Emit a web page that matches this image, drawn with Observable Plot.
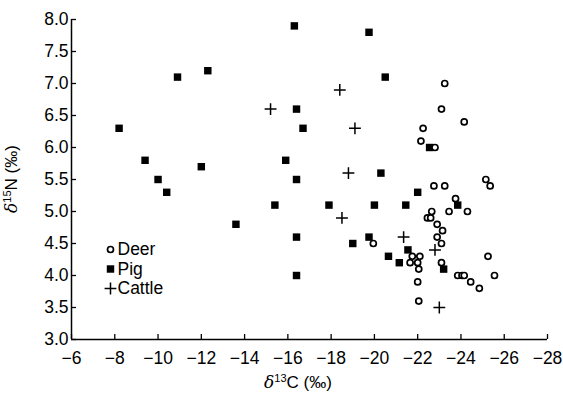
<!DOCTYPE html>
<html>
<head>
<meta charset="utf-8">
<script src="https://cdn.jsdelivr.net/npm/d3@7"></script>
<script src="https://cdn.jsdelivr.net/npm/@observablehq/plot@0.6"></script>
<style>
  html, body { margin: 0; padding: 0; background: #fff; }
  #chart svg { display: block; }
</style>
</head>
<body>
<div id="chart"></div>
<script>
// δ13C (x) and δ15N (y) values
const deerC = [-19.95, -23.25, -23.1, -24.15, -22.25, -22.15, -22.8, -22.75, -23.25, -25.15, -25.35, -23.75, -23.45, -24.3, -22.65, -22.45, -22.6, -22.9, -23.15, -22.9, -23.1, -21.75, -22.1, -21.65, -22.0, -22.05, -23.1, -25.25, -23.85, -24.05, -24.15, -24.45, -24.85, -25.55, -22.0, -22.05];
const deerN = [4.5, 7.0, 6.6, 6.4, 6.3, 6.1, 6.0, 5.4, 5.4, 5.5, 5.4, 5.2, 5.0, 5.0, 5.0, 4.9, 4.9, 4.8, 4.7, 4.6, 4.5, 4.3, 4.3, 4.2, 4.2, 4.1, 4.2, 4.3, 4.0, 4.0, 4.0, 3.9, 3.8, 4.0, 3.9, 3.6];

const pigC = [-8.2, -9.4, -10.0, -10.4, -10.9, -12.0, -12.3, -13.6, -16.3, -19.75, -20.5, -16.4, -16.7, -15.9, -20.3, -16.4, -15.4, -17.9, -20.0, -16.4, -19.75, -19.0, -20.65, -21.15, -16.4, -22.55, -22.0, -21.45, -23.85, -21.55, -23.2];
const pigN = [6.3, 5.8, 5.5, 5.3, 7.1, 5.7, 7.2, 4.8, 7.9, 7.8, 7.1, 6.6, 6.3, 5.8, 5.6, 5.5, 5.1, 5.1, 5.1, 4.6, 4.6, 4.5, 4.3, 4.2, 4.0, 6.0, 5.3, 5.1, 5.1, 4.4, 4.1];

const cattleC = [-15.2, -18.4, -19.1, -18.8, -18.5, -21.35, -22.8, -23.0];
const cattleN = [6.6, 6.9, 6.3, 5.6, 4.9, 4.6, 4.4, 3.5];

const xTicks = [-6, -8, -10, -12, -14, -16, -18, -20, -22, -24, -26, -28];
const yTicks = [3.0, 3.5, 4.0, 4.5, 5.0, 5.5, 6.0, 6.5, 7.0, 7.5, 8.0];
const legendLabels = ["Deer", "Pig", "Cattle"];

const zip = (xs, ys) => xs.map((x, i) => ({x, y: ys[i]}));
const deer = zip(deerC, deerN);
const pig = zip(pigC, pigN);
const cattle = zip(cattleC, cattleN);

const W = 563, H = 394;
const mL = 71, mR = 16, mT = 19, mB = 55;
const font = "'Liberation Sans', Arial, Helvetica, sans-serif";
const fs = 17.5;

// legend anchor positions (computed in data space from pixel layout)
const xs = d3.scaleLinear().domain([-6, -28]).range([mL, W - mR]);
const ys = d3.scaleLinear().domain([3, 8]).range([H - mB, mT]);
const legendRows = legendLabels.map((label, i) => ({
  label,
  x: xs.invert(110),
  xt: xs.invert(117),
  y: ys.invert(249 + i * 19.5)
}));

const plot = Plot.plot({
  width: W,
  height: H,
  marginLeft: mL,
  marginRight: mR,
  marginTop: mT,
  marginBottom: mB,
  style: {fontFamily: font, fontSize: fs + "px", color: "#000", background: "#fff"},
  x: {domain: [-6, -28], label: null},
  y: {domain: [3, 8], label: null},
  marks: [
    Plot.axisX(xTicks, {tickSize: -5, tickPadding: 17, fontSize: fs, label: null, stroke: "#000", strokeWidth: 1.3}),
    Plot.axisY(yTicks, {tickSize: -5, tickPadding: 8, fontSize: fs, label: null, tickFormat: d3.format(".1f"), stroke: "#000", strokeWidth: 1.3}),
    Plot.ruleY([3], {stroke: "#000", strokeWidth: 1.5}),
    Plot.ruleX([-6], {stroke: "#000", strokeWidth: 1.5}),
    Plot.dot(pig, {x: "x", y: "y", symbol: "square", r: 4.2, fill: "#000", stroke: "none"}),
    Plot.dot(cattle, {x: "x", y: "y", symbol: "plus", r: 3.9, stroke: "#000", strokeWidth: 1.5}),
    Plot.dot(deer, {x: "x", y: "y", symbol: "circle", r: 3, fill: "#fff", stroke: "#000", strokeWidth: 1.7}),
    // legend
    Plot.dot(legendRows.slice(0, 1), {x: "x", y: "y", symbol: "circle", r: 3, fill: "#fff", stroke: "#000", strokeWidth: 1.7}),
    Plot.dot(legendRows.slice(1, 2), {x: "x", y: "y", symbol: "square", r: 4.2, fill: "#000"}),
    Plot.dot(legendRows.slice(2, 3), {x: "x", y: "y", symbol: "plus", r: 3.9, stroke: "#000", strokeWidth: 1.5}),
    Plot.text(legendRows, {x: "xt", y: "y", text: "label", textAnchor: "start", fontSize: fs, fill: "#000"})
  ]
});

const svg = d3.select(plot);
// x-axis title
const xt = svg.append("text")
  .attr("x", 298)
  .attr("y", H - 6)
  .attr("text-anchor", "middle")
  .attr("font-family", font)
  .attr("font-size", 17)
  .attr("fill", "#000");
xt.append("tspan").attr("font-style", "italic").attr("font-family", "'DejaVu Serif', 'Liberation Serif', serif").text("δ");
xt.append("tspan").attr("font-size", 11).attr("dy", -6).text("13");
xt.append("tspan").attr("dy", 6).text("C (‰)");

// y-axis title
const yt = svg.append("text")
  .attr("transform", `translate(17,${(mT + H - mB) / 2}) rotate(-90)`)
  .attr("text-anchor", "middle")
  .attr("font-family", font)
  .attr("font-size", 17)
  .attr("fill", "#000");
yt.append("tspan").attr("font-style", "italic").attr("font-family", "'DejaVu Serif', 'Liberation Serif', serif").text("δ");
yt.append("tspan").attr("font-size", 11).attr("dy", -6).text("15");
yt.append("tspan").attr("dy", 6).text("N (‰)");

document.getElementById("chart").appendChild(plot);
</script>
</body>
</html>
